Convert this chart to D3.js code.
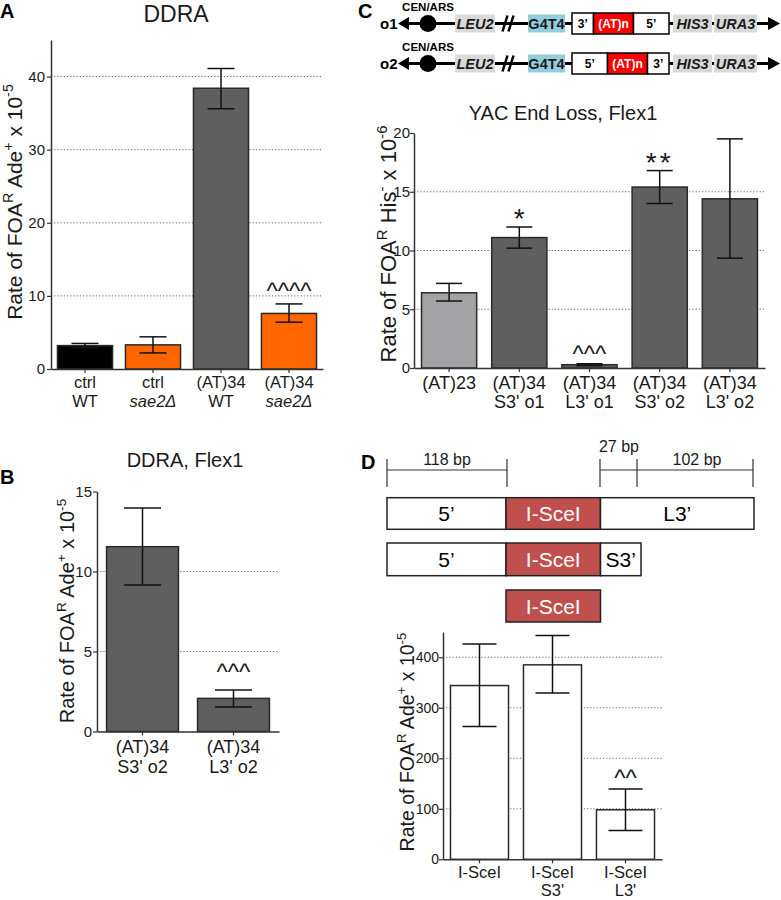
<!DOCTYPE html>
<html>
<head>
<meta charset="utf-8">
<script src="https://cdn.jsdelivr.net/npm/d3@7"></script>
<style>
  html, body { margin: 0; padding: 0; background: #fff; }
  svg { display: block; font-family: "Liberation Sans", Arial, sans-serif; }
</style>
</head>
<body>
<svg id="fig" width="781" height="900"></svg>
<script>
// ---------------- DATA ----------------
// Panel A: DDRA
const aLine1 = ["ctrl", "ctrl", "(AT)34", "(AT)34"];
const aLine2 = ["WT", "sae2Δ", "WT", "sae2Δ"];
const aItalic2 = [false, true, false, true];
const aValues = [3.2, 3.3, 38.4, 7.6];
const aLower = [2.9, 2.2, 35.6, 6.4];
const aUpper = [3.5, 4.4, 41.1, 8.9];
const aColors = ["#000000", "#ff6600", "#5f5f5f", "#ff6600"];
const aAnnot = ["", "", "", "^^^^"];
const aTicks = [0, 10, 20, 30, 40];
const aGrid = [10, 20, 30, 40];

// Panel B: DDRA, Flex1
const bLine1 = ["(AT)34", "(AT)34"];
const bLine2 = ["S3' o2", "L3' o2"];
const bValues = [11.55, 2.07];
const bLower = [9.16, 1.53];
const bUpper = [13.97, 2.6];
const bColors = ["#5f5f5f", "#5f5f5f"];
const bAnnot = ["", "^^^"];
const bTicks = [0, 5, 10, 15];
const bGrid = [5, 10];

// Panel C: YAC End Loss, Flex1
const cLine1 = ["(AT)23", "(AT)34", "(AT)34", "(AT)34", "(AT)34"];
const cLine2 = ["", "S3' o1", "L3' o1", "S3' o2", "L3' o2"];
const cValues = [6.4, 11.1, 0.28, 15.4, 14.4];
const cLower = [5.7, 10.2, 0.2, 14.0, 9.35];
const cUpper = [7.2, 12.0, 0.36, 16.8, 19.5];
const cColors = ["#a3a3a5", "#5f5f5f", "#5f5f5f", "#5f5f5f", "#5f5f5f"];
const cAnnot = ["", "*", "^^^", "**", ""];
const cTicks = [0, 5, 10, 15, 20];
const cGrid = [5, 10, 15];
const cRowNames = ["o1", "o2"];
const cInserts = [["3’", "(AT)n", "5’"], ["5’", "(AT)n", "3’"]];

// Panel D: I-SceI
const dLine1 = ["I-SceI", "I-SceI", "I-SceI"];
const dLine2 = ["", "S3'", "L3'"];
const dValues = [344, 385, 98];
const dLower = [263, 329, 57];
const dUpper = [426, 443, 139];
const dColors = ["#ffffff", "#ffffff", "#ffffff"];
const dAnnot = ["", "", "^^"];
const dTicks = [0, 100, 200, 300, 400];
const dGrid = [100, 200, 300, 400];
const dBpLabels = ["118 bp", "27 bp", "102 bp"];
const dConstructs = [["5’", "I-SceI", "L3’"], ["5’", "I-SceI", "S3’"], ["I-SceI"]];

// ---------------- DRAWING ----------------
const svg = d3.select("#fig");
const INK = "#1a1a1a";

function yLabel(x, y, fs, parts) {
  const t = svg.append("text")
    .attr("transform", `translate(${x},${y}) rotate(-90)`)
    .attr("text-anchor", "middle")
    .attr("font-size", fs)
    .attr("fill", INK);
  const shift = fs * 0.42;
  let prevSup = false;
  parts.forEach(p => {
    const sp = t.append("tspan").text(p.t);
    if (p.sup) {
      sp.attr("font-size", fs * 0.68).attr("dy", -shift);
      prevSup = true;
    } else {
      sp.attr("font-size", fs);
      if (prevSup) sp.attr("dy", shift);
      prevSup = false;
    }
  });
}

function barPanel(o) {
  const g = svg.append("g");
  const n = o.values.length;
  const x = d3.scaleBand().domain(d3.range(n)).range([o.left, o.right])
    .paddingInner(o.pi).paddingOuter(o.pi / 2);
  const y = d3.scaleLinear().domain([0, o.max]).range([o.bottom, o.top]);

  g.selectAll("line.grid").data(o.grid).join("line")
    .attr("x1", o.left).attr("x2", o.right)
    .attr("y1", d => y(d)).attr("y2", d => y(d))
    .attr("stroke", "#666").attr("stroke-width", 1)
    .attr("stroke-dasharray", "1.2,2");

  g.selectAll("rect.bar").data(o.values).join("rect")
    .attr("x", (d, i) => x(i)).attr("width", x.bandwidth())
    .attr("y", d => y(d)).attr("height", d => y(0) - y(d))
    .attr("fill", (d, i) => o.colors[i])
    .attr("stroke", "#2a2a2a").attr("stroke-width", 1.5);

  const cx = i => x(i) + x.bandwidth() / 2;
  const eb = g.selectAll("g.eb").data(o.values).join("g").attr("stroke", "#111").attr("stroke-width", 1.5);
  eb.append("line").attr("x1", (d, i) => cx(i)).attr("x2", (d, i) => cx(i))
    .attr("y1", (d, i) => y(o.lower[i])).attr("y2", (d, i) => y(o.upper[i]));
  eb.append("line").attr("x1", (d, i) => cx(i) - o.cap / 2).attr("x2", (d, i) => cx(i) + o.cap / 2)
    .attr("y1", (d, i) => y(o.upper[i])).attr("y2", (d, i) => y(o.upper[i]));
  eb.append("line").attr("x1", (d, i) => cx(i) - o.cap / 2).attr("x2", (d, i) => cx(i) + o.cap / 2)
    .attr("y1", (d, i) => y(o.lower[i])).attr("y2", (d, i) => y(o.lower[i]));

  g.selectAll("text.ann").data(o.annot).join("text")
    .attr("x", (d, i) => cx(i)).attr("y", (d, i) => y(o.upper[i]) - o.annGap + (d.startsWith("*") ? 3 : 0))
    .attr("text-anchor", "middle").attr("font-size", d => d.startsWith("*") ? 28 : 24)
    .attr("letter-spacing", (d) => d === "**" ? 3 : 0)
    .attr("fill", INK).text(d => d);

  const ya = g.append("g").attr("transform", `translate(${o.left},0)`)
    .call(d3.axisLeft(y).tickValues(o.ticks).tickSize(4).tickSizeOuter(0).tickPadding(o.tickPad).tickFormat(d3.format("d")));
  ya.select(".domain").attr("stroke", "#333").attr("stroke-width", 1.5);
  ya.selectAll(".tick line").attr("stroke", "#333").attr("stroke-width", 1.2);
  ya.selectAll(".tick text").attr("font-size", o.tickFs).attr("fill", INK)
    .attr("font-family", '"Liberation Sans", Arial, sans-serif');

  const xa = g.append("g").attr("transform", `translate(0,${o.bottom})`)
    .call(d3.axisBottom(x).tickSize(4).tickSizeOuter(0).tickFormat(""));
  xa.select(".domain").attr("stroke", "#333").attr("stroke-width", 1.5);
  xa.selectAll(".tick line").attr("stroke", "#333").attr("stroke-width", 1.2);

  const lab = g.selectAll("text.xl").data(o.line1).join("text")
    .attr("text-anchor", "middle").attr("font-size", o.labFs).attr("fill", INK);
  lab.append("tspan").attr("x", (d, i) => cx(i)).attr("y", o.bottom + o.lab1).text(d => d);
  lab.append("tspan").attr("x", (d, i) => cx(i)).attr("y", o.bottom + o.lab2)
    .attr("font-style", (d, i) => o.italic2 && o.italic2[i] ? "italic" : "normal")
    .text((d, i) => o.line2[i]);

  if (o.title) {
    svg.append("text").attr("x", o.titleX).attr("y", o.titleY).attr("text-anchor", "middle")
      .attr("font-size", o.titleFs).attr("fill", INK).text(o.title);
  }
}

const adeLabel = [{t: "Rate of FOA"}, {t: "R", sup: true}, {t: " Ade"}, {t: "+", sup: true}, {t: " x 10"}, {t: "-5", sup: true}];
const hisLabel = [{t: "Rate of FOA"}, {t: "R", sup: true}, {t: " His"}, {t: "-", sup: true}, {t: " x 10"}, {t: "-6", sup: true}];

// Panel letters
[["A", 0, 18], ["C", 358, 18], ["B", 0, 484], ["D", 361, 469]].forEach(p => {
  svg.append("text").attr("x", p[1]).attr("y", p[2]).attr("font-size", 20)
    .attr("font-weight", "bold").attr("fill", "#000").text(p[0]);
});

// Panel A
barPanel({left: 51, right: 323, bottom: 369, top: 40, max: 45, pi: 0.19,
  values: aValues, lower: aLower, upper: aUpper, colors: aColors, annot: aAnnot, annGap: 5,
  ticks: aTicks, grid: aGrid, cap: 27, tickFs: 15, tickPad: 2,
  line1: aLine1, line2: aLine2, italic2: aItalic2, lab1: 19, lab2: 38, labFs: 16.5,
  title: "DDRA", titleX: 176, titleY: 22, titleFs: 23});
yLabel(22, 202, 21, adeLabel);

// Panel B
barPanel({left: 97, right: 279, bottom: 731.5, top: 491.5, max: 15, pi: 0.21,
  values: bValues, lower: bLower, upper: bUpper, colors: bColors, annot: bAnnot, annGap: 10,
  ticks: bTicks, grid: bGrid, cap: 37, tickFs: 15, tickPad: 1,
  line1: bLine1, line2: bLine2, lab1: 21.5, lab2: 41.5, labFs: 18,
  title: "DDRA, Flex1", titleX: 185, titleY: 467, titleFs: 20});
yLabel(74, 611, 20, adeLabel);

// Panel C chart
barPanel({left: 414, right: 765, bottom: 368, top: 133, max: 20, pi: 0.214,
  values: cValues, lower: cLower, upper: cUpper, colors: cColors, annot: cAnnot, annGap: 2,
  ticks: cTicks, grid: cGrid, cap: 26, tickFs: 15, tickPad: 0,
  line1: cLine1, line2: cLine2, lab1: 21, lab2: 40, labFs: 18,
  title: "YAC End Loss, Flex1", titleX: 563, titleY: 120, titleFs: 20});
yLabel(396, 244, 22, hisLabel);

// Panel D chart
barPanel({left: 443, right: 662, bottom: 859.3, top: 632, max: 450, pi: 0.205,
  values: dValues, lower: dLower, upper: dUpper, colors: dColors, annot: dAnnot, annGap: 3,
  ticks: dTicks, grid: dGrid, cap: 34, tickFs: 14, tickPad: 0,
  line1: dLine1, line2: dLine2, lab1: 18.5, lab2: 37, labFs: 16.5});
yLabel(414, 742, 19.5, adeLabel);

// ---------------- Panel C schematic ----------------
const cRowY = [23.5, 63.5];
const segW = {"3’": 21.5, "5’": 35.5, "(AT)n": 40};
const segFill = {"3’": "#ffffff", "5’": "#ffffff", "(AT)n": "#ff0000"};
const segText = {"3’": "#000", "5’": "#000", "(AT)n": "#fff"};
const geneBoxes = [{t: "LEU2", x0: 455, x1: 495, fill: "#d9d9d9", it: true},
                   {t: "G4T4", x0: 528, x1: 565, fill: "#93cddd", it: false},
                   {t: "HIS3", x0: 673, x1: 712, fill: "#d9d9d9", it: true},
                   {t: "URA3", x0: 714, x1: 757, fill: "#d9d9d9", it: true}];
cRowNames.forEach((name, r) => {
  const yy = cRowY[r];
  const g = svg.append("g");
  g.append("line").attr("x1", 404).attr("x2", 772).attr("y1", yy).attr("y2", yy)
    .attr("stroke", "#000").attr("stroke-width", 3);
  g.append("path").attr("d", `M398,${yy} L409,${yy - 6.5} L409,${yy + 6.5} Z`).attr("fill", "#000");
  g.append("path").attr("d", `M780,${yy} L768,${yy - 6.5} L768,${yy + 6.5} Z`).attr("fill", "#000");
  g.append("circle").attr("cx", 428).attr("cy", yy).attr("r", 8.5).attr("fill", "#000");
  g.append("text").attr("x", 428).attr("y", yy - 12.5).attr("text-anchor", "middle")
    .attr("font-size", 11.5).attr("font-weight", "bold").text("CEN/ARS");
  g.append("text").attr("x", 380).attr("y", yy + 5).attr("font-size", 15)
    .attr("font-weight", "bold").text(name);
  // break marks
  [505, 511].forEach(bx => {
    g.append("line").attr("x1", bx - 2.5).attr("x2", bx + 2.5).attr("y1", yy + 8).attr("y2", yy - 8)
      .attr("stroke", "#000").attr("stroke-width", 2.5);
  });
  geneBoxes.forEach(b => {
    g.append("rect").attr("x", b.x0).attr("y", yy - 9).attr("width", b.x1 - b.x0).attr("height", 18)
      .attr("fill", b.fill);
    g.append("text").attr("x", (b.x0 + b.x1) / 2).attr("y", yy + 5.2).attr("text-anchor", "middle")
      .attr("font-size", 14.5).attr("font-weight", "bold").attr("font-style", b.it ? "italic" : "normal")
      .attr("fill", "#1a1a1a").text(b.t);
  });
  let sx = 572;
  cInserts[r].forEach(s => {
    const w = segW[s];
    g.append("rect").attr("x", sx).attr("y", yy - 10.5).attr("width", w).attr("height", 21)
      .attr("fill", segFill[s]).attr("stroke", "#000").attr("stroke-width", 1.5);
    g.append("text").attr("x", sx + w / 2).attr("y", yy + 4.5).attr("text-anchor", "middle")
      .attr("font-size", 12).attr("font-weight", "bold").attr("fill", segText[s]).text(s);
    sx += w;
  });
});

// ---------------- Panel D schematic ----------------
const brLineY = 470;
const brackets = [{ticks: [387, 507]}, {ticks: [600, 637, 753]}];
brackets.forEach(b => {
  svg.append("line").attr("x1", b.ticks[0]).attr("x2", b.ticks[b.ticks.length - 1])
    .attr("y1", brLineY).attr("y2", brLineY).attr("stroke", "#333").attr("stroke-width", 1.2);
  b.ticks.forEach(t => svg.append("line").attr("x1", t).attr("x2", t).attr("y1", 459).attr("y2", 487)
    .attr("stroke", "#333").attr("stroke-width", 1.2));
});
const bpPos = [[447, 465], [619, 452], [697, 465]];
dBpLabels.forEach((t, i) => svg.append("text").attr("x", bpPos[i][0]).attr("y", bpPos[i][1])
  .attr("text-anchor", "middle").attr("font-size", 16).attr("fill", INK).text(t));

const conY = [[497.7, 529.3], [543, 575.7], [590, 622]];
const conSegX = {"5’": [387, 506], "I-SceI": [506, 600.5], "L3’": [600.5, 754], "S3’": [600.5, 641]};
dConstructs.forEach((row, r) => {
  const [y0, y1] = conY[r];
  row.forEach(s => {
    const [x0, x1] = conSegX[s];
    const red = s === "I-SceI";
    svg.append("rect").attr("x", x0).attr("y", y0).attr("width", x1 - x0).attr("height", y1 - y0)
      .attr("fill", red ? "#c0504d" : "#fff").attr("stroke", "#222").attr("stroke-width", 1.5);
    svg.append("text").attr("x", (x0 + x1) / 2).attr("y", (y0 + y1) / 2 + 7.5).attr("text-anchor", "middle")
      .attr("font-size", 21).attr("fill", red ? "#fff" : "#000").text(s);
  });
});
</script>
</body>
</html>
